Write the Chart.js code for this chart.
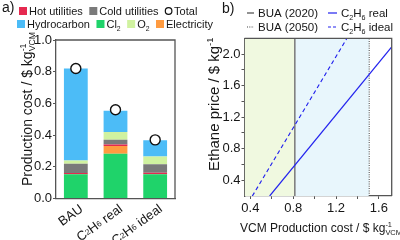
<!DOCTYPE html>
<html><head><meta charset="utf-8">
<script src="https://cdn.jsdelivr.net/npm/chart.js@4/dist/chart.umd.min.js"></script>
<style>
html,body{margin:0;padding:0;background:#fff;width:400px;height:240px;overflow:hidden;}
canvas{position:absolute;top:0;}
</style></head>
<body>
<canvas id="ca" width="220" height="240" style="left:0;width:220px;height:240px"></canvas>
<canvas id="cb" width="200" height="240" style="left:200px;width:200px;height:240px"></canvas>
<script>
// ---------- data: panel a ----------
const categories = ['BAU', 'C₂H₆ real', 'C₂H₆ ideal'];
const cl2         = [0.153, 0.282, 0.153];
const electricity = [0.000, 0.050, 0.000];
const hotUtil     = [0.008, 0.009, 0.010];
const coldUtil    = [0.059, 0.029, 0.053];
const o2          = [0.019, 0.049, 0.049];
const hydrocarbon = [0.581, 0.135, 0.103];
const total       = [0.82, 0.56, 0.37];
const yTicksA     = [0, 0.1, 0.2, 0.3, 0.4, 0.5, 0.6, 0.7, 0.8, 0.9, 1.0];
const yLabelsA    = [0, 0.2, 0.4, 0.6, 0.8, 1.0];

// ---------- data: panel b ----------
const xRangeB   = [0.345, 1.72];
const yRangeB   = [0.2, 2.2];
const xTicksB   = [0.4, 0.6, 0.8, 1.0, 1.2, 1.4, 1.6];
const xLabelsB  = [0.4, 0.8, 1.2, 1.6];
const yTicksB   = [0.4, 0.6, 0.8, 1.0, 1.2, 1.4, 1.6, 1.8, 2.0];
const yLabelsB  = [0.4, 0.8, 1.2, 1.6, 2.0];
const bua2020   = 0.815;
const bua2050   = 1.51;
const realX     = [0.58, 1.72];
const realY     = [0.20, 2.09];
const idealX    = [0.418, 1.302];
const idealY    = [0.20, 2.20];

const FF = '"Liberation Sans", Arial, Helvetica, sans-serif';
const TXT = '#161616';
const AX = '#555555';
const C = {
  hot:'#e5294f', cold:'#7a7a7a', hydro:'#4cbcf7', cl2:'#1fd36a', o2:'#d0f2a0', elec:'#ff9b40'
};
const f = (s)=> s + 'px ' + FF;

// split unicode subscript digits into rich parts
const SUBS = '₀₁₂₃₄₅₆₇₈₉';
function rich(str){
  const parts = []; let cur = '', curSub = false;
  for (const ch of str){
    const i = SUBS.indexOf(ch);
    const isSub = i >= 0;
    const c = isSub ? String(i) : ch;
    if (parts.length === 0 && cur === '') curSub = isSub;
    if (isSub !== curSub){ parts.push(curSub ? {sub:cur} : {t:cur}); cur = ''; curSub = isSub; }
    cur += c;
  }
  if (cur) parts.push(curSub ? {sub:cur} : {t:cur});
  return parts;
}

function partsWidth(ctx, parts, size){
  let w = 0; const small = size*0.62;
  parts.forEach(p=>{
    if (p.t !== undefined){ ctx.font = f(size); w += ctx.measureText(p.t).width; }
    else { ctx.font = f(small); w += Math.max(p.sup?ctx.measureText(p.sup).width:0, p.sub?ctx.measureText(p.sub).width:0); }
  });
  return w;
}

// rich text: parts {t} normal, {sup,sub} stacked; align 'left'|'right'
function drawRich(ctx, parts, x, y, size, rot, align, baseline){
  ctx.save();
  ctx.translate(x, y);
  if (rot) ctx.rotate(rot);
  ctx.fillStyle = TXT;
  ctx.textAlign = 'left';
  ctx.textBaseline = baseline || 'alphabetic';
  let cx = align === 'right' ? -partsWidth(ctx, parts, size) : 0;
  const small = size * 0.62;
  parts.forEach(p=>{
    if (p.t !== undefined){
      ctx.font = f(size);
      ctx.fillText(p.t, cx, 0);
      cx += ctx.measureText(p.t).width;
    } else {
      ctx.font = f(small);
      let w = 0;
      if (p.sup){ ctx.fillText(p.sup, cx, -size*0.42); w = Math.max(w, ctx.measureText(p.sup).width); }
      if (p.sub){ ctx.fillText(p.sub, cx, size*0.22); w = Math.max(w, ctx.measureText(p.sub).width); }
      cx += w;
    }
  });
  ctx.restore();
  return cx;
}

const tickFmt = (labels)=> (v)=> labels.some(l=>Math.abs(l-v)<1e-9) ? Number(v).toFixed(1) : '';

// ---------- panel a ----------
const legendRowsA = [
  {x:19, y:11, items:[{k:'box',c:C.hot,l:'Hot utilities'},{k:'box',c:C.cold,l:'Cold utilities'},{k:'circ',l:'Total'}]},
  {x:17, y:24, items:[{k:'box',c:C.hydro,l:'Hydrocarbon'},{k:'box',c:C.cl2,l:'Cl₂'},{k:'box',c:C.o2,l:'O₂'},{k:'box',c:C.elec,l:'Electricity'}]}
];

const decoA = {
  id:'decoA',
  afterDraw(chart){
    const ctx = chart.ctx, a = chart.chartArea;
    ctx.save();
    // frame
    ctx.strokeStyle = AX; ctx.lineWidth = 1.3;
    ctx.beginPath();
    ctx.moveTo(a.left, a.top); ctx.lineTo(a.right, a.top); ctx.lineTo(a.right, a.bottom);
    ctx.stroke();
    // panel label
    ctx.fillStyle = TXT; ctx.font = f(14); ctx.textBaseline = 'middle'; ctx.textAlign='left';
    ctx.fillText('a)', 2, 8);
    // legend
    legendRowsA.forEach(r=>{
      let x = r.x;
      r.items.forEach(it=>{
        if (it.k === 'box'){
          ctx.fillStyle = it.c; ctx.fillRect(x, r.y-4, 8, 8); x += 10;
        } else {
          ctx.beginPath(); ctx.arc(x+3.5, r.y, 3.3, 0, Math.PI*2);
          ctx.fillStyle='#fff'; ctx.fill(); ctx.strokeStyle='#111'; ctx.lineWidth=1.2; ctx.stroke(); x += 9;
        }
        const end = drawRich(ctx, rich(it.l), x, r.y+4.3, 11, 0);
        x += end + 6.5;
      });
    });
    ctx.restore();
    // category labels (rotated)
    const xs = chart.scales.x;
    categories.forEach((c, i)=>{
      const px = xs.getPixelForValue(i);
      drawRich(ctx, rich(c), px + 2, a.bottom + 4, 13, -36*Math.PI/180, 'right', 'top');
    });
    // y title
    drawRich(ctx, [{t:'Production cost / $ kg'},{sup:'-1', sub:'VCM'}], 31.5, 186, 14, -Math.PI/2);
  }
};

new Chart(document.getElementById('ca'), {
  type:'bar',
  data:{
    labels: categories,
    datasets:[
      {label:'Cl₂', data:cl2, backgroundColor:C.cl2},
      {label:'Electricity', data:electricity, backgroundColor:C.elec},
      {label:'Hot utilities', data:hotUtil, backgroundColor:C.hot},
      {label:'Cold utilities', data:coldUtil, backgroundColor:C.cold},
      {label:'O₂', data:o2, backgroundColor:C.o2},
      {label:'Hydrocarbon', data:hydrocarbon, backgroundColor:C.hydro},
      {type:'line', label:'Total', data:total, stack:'total', showLine:false, order:-1,
       pointRadius:5, pointBackgroundColor:'#fff', pointBorderColor:'#111', pointBorderWidth:1.4}
    ]
  },
  options:{
    responsive:false, animation:false, devicePixelRatio:1,
    layout:{padding:{left:0, right:45, top:40, bottom:0}},
    datasets:{bar:{barPercentage:0.6, categoryPercentage:1, borderWidth:0}},
    plugins:{legend:{display:false}, tooltip:{enabled:false}},
    scales:{
      x:{stacked:true,
         grid:{display:false},
         border:{color:AX, width:1.3},
         ticks:{display:false},
         afterFit(s){ s.height = 41.5; }},
      y:{stacked:true, min:0, max:1,
         grid:{drawOnChartArea:false, drawTicks:true, tickLength:3, color:AX, lineWidth:1},
         border:{color:AX, width:1.3},
         ticks:{font:{family:FF,size:13}, color:TXT, padding:1, callback:tickFmt(yLabelsA)},
         afterBuildTicks(s){ s.ticks = yTicksA.map(v=>({value:v})); },
         afterFit(s){ s.width = 56; }}
    }
  },
  plugins:[decoA]
});

// ---------- panel b ----------
const decoB = {
  id:'decoB',
  afterDraw(chart){
    const ctx = chart.ctx, a = chart.chartArea;
    ctx.save();
    ctx.strokeStyle = AX; ctx.lineWidth = 1.3;
    ctx.beginPath();
    ctx.moveTo(a.left, a.top); ctx.lineTo(a.right, a.top); ctx.lineTo(a.right, a.bottom);
    ctx.stroke();
    ctx.fillStyle = TXT; ctx.font = f(14); ctx.textBaseline='middle'; ctx.textAlign='left';
    ctx.fillText('b)', 22, 9);
    // legend
    const items = [
      {x:47, y:13, c:'#777', w:1.6, d:[], len:7, l:'BUA (2020)'},
      {x:47, y:27, c:'#444', w:1.1, d:[1,1.3], len:7, l:'BUA (2050)'},
      {x:128, y:13, c:'#2222ee', w:1.2, d:[], len:9, l:'C₂H₆ real'},
      {x:128, y:27, c:'#2222ee', w:1.2, d:[3,2], len:9, l:'C₂H₆ ideal'}
    ];
    items.forEach(it=>{
      ctx.strokeStyle = it.c; ctx.lineWidth = it.w; ctx.setLineDash(it.d);
      ctx.beginPath(); ctx.moveTo(it.x, it.y); ctx.lineTo(it.x+it.len, it.y); ctx.stroke();
      ctx.setLineDash([]);
      drawRich(ctx, rich(it.l), it.x + it.len + 4, it.y + 4.3, 11.5, 0);
    });
    ctx.restore();
    drawRich(ctx, [{t:'Ethane price / $ kg'},{sup:'-1'}], 19, 171, 15, -Math.PI/2);
    drawRich(ctx, [{t:'VCM Production cost / $ kg'},{sup:'-1', sub:'VCM'}], 40, 232, 12, 0);
  }
};

const pts = (xs, ys)=> xs.map((x,i)=>({x, y:ys[i]}));

new Chart(document.getElementById('cb'), {
  type:'scatter',
  data:{datasets:[
    {label:'2020 zone', order:5, data:[{x:xRangeB[0], y:yRangeB[1]},{x:bua2020, y:yRangeB[1]}], showLine:true,
     fill:'start', backgroundColor:'rgba(240,249,224,1)', borderWidth:0, pointRadius:0},
    {label:'2050 zone', order:5, data:[{x:bua2020, y:yRangeB[1]},{x:bua2050, y:yRangeB[1]}], showLine:true,
     fill:'start', backgroundColor:'rgba(232,246,252,1)', borderWidth:0, pointRadius:0},
    {label:'BUA (2020)', order:3, data:[{x:bua2020, y:yRangeB[0]},{x:bua2020, y:yRangeB[1]}], showLine:true,
     borderColor:'#808080', borderWidth:1.6, pointRadius:0},
    {label:'BUA (2050)', order:3, data:[{x:bua2050, y:yRangeB[0]},{x:bua2050, y:yRangeB[1]}], showLine:true,
     borderColor:'#555', borderWidth:1.1, borderDash:[1,1.3], pointRadius:0},
    {label:'C₂H₆ real', order:1, data:pts(realX, realY), showLine:true, borderColor:'#2323ee', borderWidth:1.2, pointRadius:0},
    {label:'C₂H₆ ideal', order:1, data:pts(idealX, idealY), showLine:true, borderColor:'#2323ee', borderWidth:1.2,
     borderDash:[4,3], pointRadius:0}
  ]},
  options:{
    responsive:false, animation:false, devicePixelRatio:1,
    layout:{padding:{left:0, right:8.3, top:38.3, bottom:0}},
    plugins:{legend:{display:false}, tooltip:{enabled:false}},
    scales:{
      x:{type:'linear', min:xRangeB[0], max:xRangeB[1],
         grid:{drawOnChartArea:false, drawTicks:true, tickLength:3, color:AX},
         border:{color:AX, width:1.3},
         ticks:{font:{family:FF,size:13}, color:TXT, padding:2, maxRotation:0, callback:tickFmt(xLabelsB)},
         afterBuildTicks(s){ s.ticks = xTicksB.map(v=>({value:v})); },
         afterFit(s){ s.height = 44; }},
      y:{type:'linear', min:yRangeB[0], max:yRangeB[1],
         grid:{drawOnChartArea:false, drawTicks:true, tickLength:3, color:AX},
         border:{color:AX, width:1.3},
         ticks:{font:{family:FF,size:13}, color:TXT, padding:1, callback:tickFmt(yLabelsB)},
         afterBuildTicks(s){ s.ticks = yTicksB.map(v=>({value:v})); },
         afterFit(s){ s.width = 44.5; }}
    }
  },
  plugins:[decoB]
});
</script>
</body></html>
